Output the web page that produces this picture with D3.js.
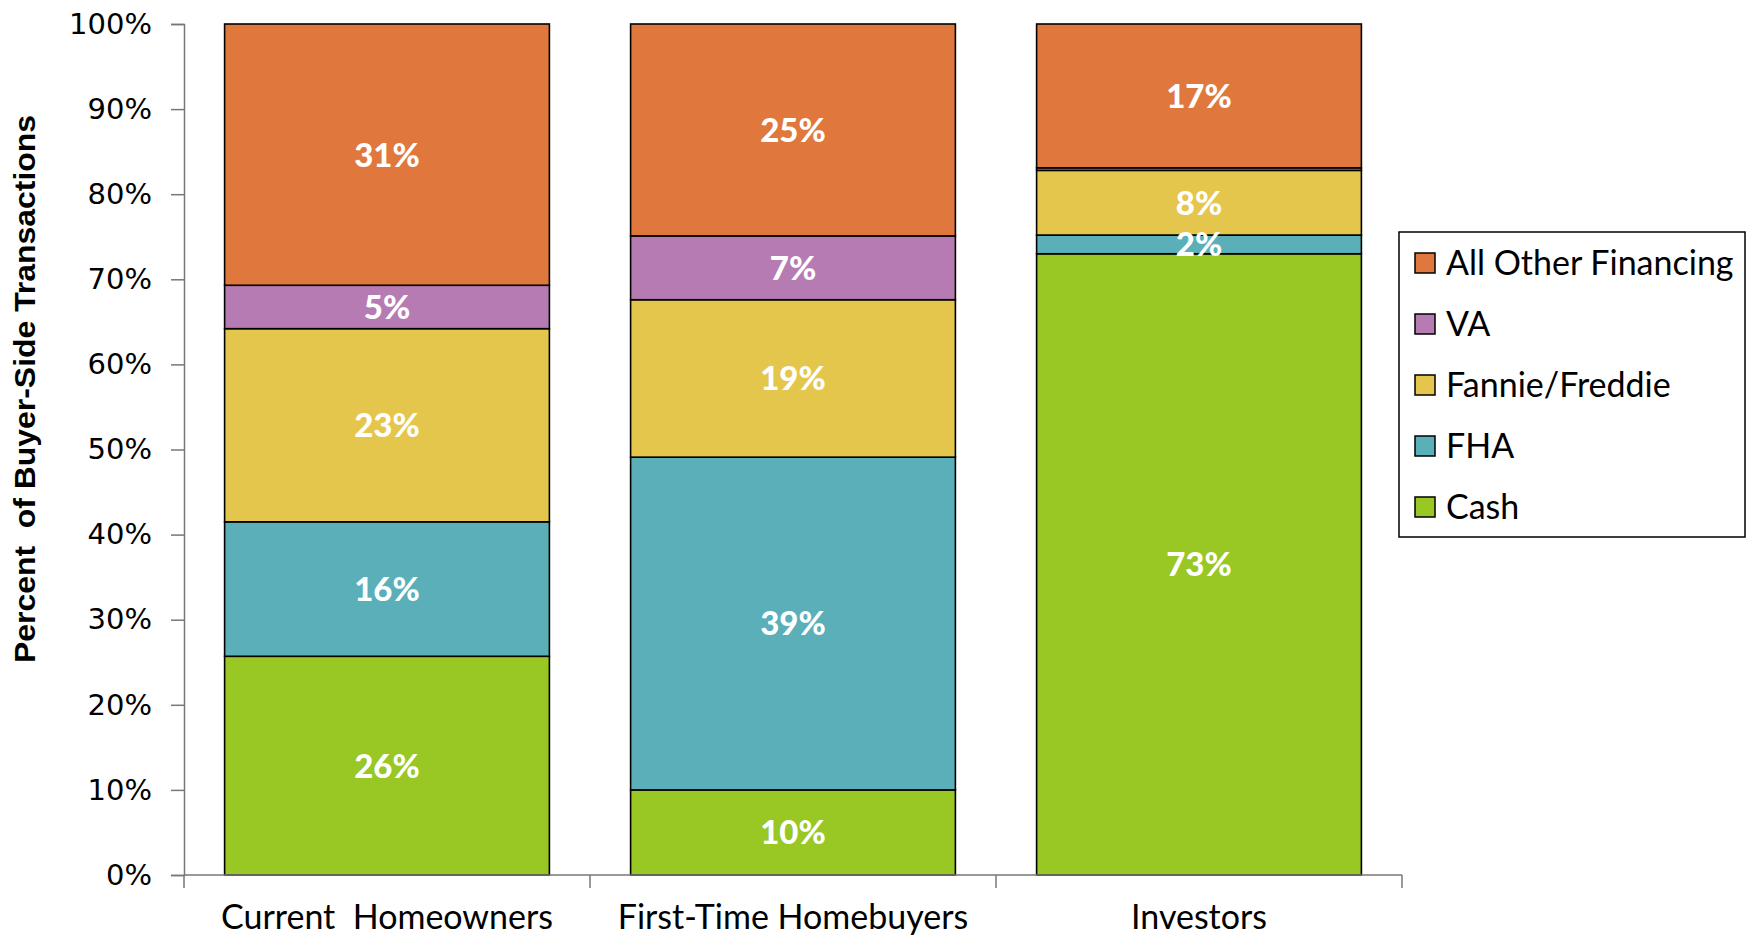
<!DOCTYPE html>
<html>
<head>
<meta charset="utf-8">
<script src="https://cdn.jsdelivr.net/npm/d3@7"></script>
<style>
  html, body { margin: 0; padding: 0; background: #fff; }
  svg { display: block; }
</style>
</head>
<body>
<div id="chart"></div>
<script>
var width = 1752;
var height = 940;

// data
var categories = ["Current  Homeowners", "First-Time Homebuyers", "Investors"];
var seriesNames = ["Cash", "FHA", "Fannie/Freddie", "VA", "All Other Financing"];
var seriesColors = ["#99c723", "#5aafb8", "#e5c64d", "#b67bb3", "#e0783e"];
var cash =   [25.7, 10.0, 73.0];
var fha =    [15.8, 39.1,  2.2];
var fannie = [22.7, 18.5,  7.6];
var va =     [ 5.1,  7.5,  0.3];
var other =  [30.7, 24.9, 16.9];
var cashLabels =   ["26%", "10%", "73%"];
var fhaLabels =    ["16%", "39%", "2%"];
var fannieLabels = ["23%", "19%", "8%"];
var vaLabels =     ["5%", "7%", ""];
var otherLabels =  ["31%", "25%", "17%"];
var yTicks = [0, 10, 20, 30, 40, 50, 60, 70, 80, 90, 100];

var seriesValues = [cash, fha, fannie, va, other];
var seriesLabels = [cashLabels, fhaLabels, fannieLabels, vaLabels, otherLabels];

var margin = {left: 184, right: 350, top: 24, bottom: 65};

var svg = d3.select("#chart")
  .append("svg")
  .attr("width", width)
  .attr("height", height);

var x = d3.scaleBand()
  .domain(categories)
  .range([margin.left, width - margin.right])
  .paddingInner(0.2)
  .paddingOuter(0.1);

var y = d3.scaleLinear()
  .domain([0, 100])
  .range([height - margin.bottom, margin.top]);

// build stacked rows
var rows = categories.map(function(c, i) {
  var r = {cat: c};
  seriesNames.forEach(function(s, j) { r[s] = seriesValues[j][i]; });
  return r;
});
var stacked = d3.stack().keys(seriesNames)(rows);

var barG = svg.append("g");
stacked.forEach(function(layer, j) {
  barG.selectAll(".b" + j)
    .data(layer)
    .enter()
    .append("rect")
    .attr("x", function(d) { return x(d.data.cat); })
    .attr("width", x.bandwidth())
    .attr("y", function(d) { return y(d[1]); })
    .attr("height", function(d) { return y(d[0]) - y(d[1]); })
    .attr("fill", seriesColors[j])
    .attr("stroke", "#000")
    .attr("stroke-width", 1.6);
});

// value labels
stacked.forEach(function(layer, j) {
  barG.selectAll(".t" + j)
    .data(layer)
    .enter()
    .append("text")
    .attr("x", function(d) { return x(d.data.cat) + x.bandwidth() / 2; })
    .attr("y", function(d) { return (y(d[0]) + y(d[1])) / 2; })
    .attr("dy", "0.36em")
    .attr("text-anchor", "middle")
    .attr("fill", "#fff")
    .style("font-family", "Lato, 'Open Sans', sans-serif")
    .style("font-weight", "900")
    .style("font-size", "33px")
    .text(function(d, i) { return seriesLabels[j][i]; });
});

// y axis
var yAxis = svg.append("g")
  .attr("transform", "translate(" + margin.left + ",0)")
  .call(d3.axisLeft(y).tickValues(yTicks).tickSize(13).tickPadding(19)
    .tickFormat(function(d) { return d + "%"; }));
yAxis.select(".domain").attr("stroke", "#777").attr("stroke-width", 1.5);
yAxis.selectAll(".tick line").attr("stroke", "#777").attr("stroke-width", 1.5);
yAxis.selectAll("text")
  .attr("fill", "#000")
  .style("font-family", "'DejaVu Sans', Verdana, sans-serif")
  .style("font-size", "29px");

// x axis with ticks between categories
var xg = svg.append("g");
var baseY = y(0);
xg.append("line")
  .attr("x1", margin.left).attr("x2", width - margin.right)
  .attr("y1", baseY).attr("y2", baseY)
  .attr("stroke", "#777").attr("stroke-width", 1.5);
var step = x.step();
var edges = categories.map(function(c) { return x(c) - x.paddingInner() * step / 2; });
edges.push(width - margin.right);
xg.selectAll(".xt")
  .data(edges)
  .enter()
  .append("line")
  .attr("x1", function(d) { return d; }).attr("x2", function(d) { return d; })
  .attr("y1", baseY).attr("y2", baseY + 13)
  .attr("stroke", "#777").attr("stroke-width", 1.5);
xg.selectAll(".xl")
  .data(categories)
  .enter()
  .append("text")
  .attr("x", function(d) { return x(d) + x.bandwidth() / 2; })
  .attr("y", 929)
  .attr("text-anchor", "middle")
  .style("font-family", "Lato, 'Open Sans', sans-serif")
  .style("font-size", "34px")
  .style("white-space", "pre")
  .attr("xml:space", "preserve")
  .text(function(d) { return d; });

// y axis title
svg.append("text")
  .attr("transform", "translate(35,389) rotate(-90)")
  .attr("text-anchor", "middle")
  .style("font-family", "'Liberation Sans Narrow', 'Arial Narrow', 'Liberation Sans', sans-serif")
  .style("font-weight", "bold")
  .style("font-size", "29px")
  .attr("textLength", 548)
  .attr("lengthAdjust", "spacingAndGlyphs")
  .style("white-space", "pre")
  .attr("xml:space", "preserve")
  .text("Percent  of Buyer-Side Transactions");

// legend
var legend = svg.append("g").attr("transform", "translate(1399,232)");
legend.append("rect")
  .attr("width", 346).attr("height", 305)
  .attr("fill", "#fff").attr("stroke", "#000").attr("stroke-width", 1.5);
var legendOrder = seriesNames.slice().reverse();
var legendColors = seriesColors.slice().reverse();
var item = legend.selectAll(".li")
  .data(legendOrder)
  .enter()
  .append("g")
  .attr("transform", function(d, i) { return "translate(16," + (31 + i * 61) + ")"; });
item.append("rect")
  .attr("x", 0).attr("y", -10)
  .attr("width", 20).attr("height", 20)
  .attr("fill", function(d, i) { return legendColors[i]; })
  .attr("stroke", "#000").attr("stroke-width", 1.5);
item.append("text")
  .attr("x", 31)
  .attr("dy", "0.36em")
  .style("font-family", "Lato, 'Open Sans', sans-serif")
  .style("font-size", "34px")
  .text(function(d) { return d; });
</script>
</body>
</html>
